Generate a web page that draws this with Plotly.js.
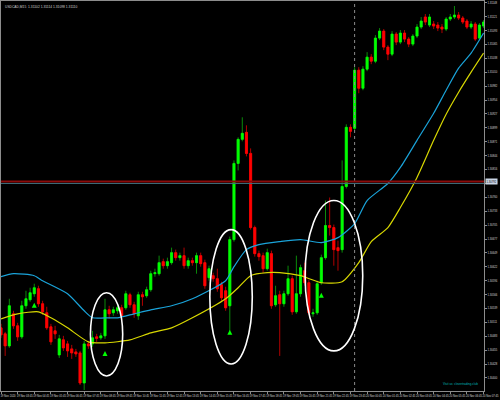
<!DOCTYPE html>
<html><head><meta charset="utf-8">
<script src="https://cdn.plot.ly/plotly-3.0.1.min.js"></script>
<style>html,body{margin:0;padding:0;background:#000;}#chart{width:500px;height:400px;}</style>
</head><body><div id="chart"></div>
<script>
const symbolName = "USDCAD,M15";
const openP = [1.30500,1.30488,1.30464,1.30528,1.30504,1.30482,1.30544,1.30556,1.30568,1.30578,
1.30548,1.30530,1.30502,1.30494,1.30446,1.30476,1.30468,1.30458,1.30452,1.30450,
1.30390,1.30468,1.30468,1.30482,1.30480,1.30484,1.30536,1.30530,1.30534,1.30540,
1.30540,1.30566,1.30546,1.30524,1.30566,1.30564,1.30576,1.30608,1.30608,1.30632,
1.30624,1.30630,1.30650,1.30640,1.30644,1.30624,1.30634,1.30630,1.30644,1.30630,
1.30600,1.30604,1.30598,1.30586,1.30574,1.30544,1.30676,1.30828,1.30876,1.30890,
1.30848,1.30700,1.30648,1.30644,1.30618,1.30648,1.30546,1.30566,1.30548,1.30568,
1.30598,1.30532,1.30568,1.30614,1.30590,1.30528,1.30530,1.30590,1.30640,1.30704,
1.30700,1.30660,1.30656,1.30782,1.30900,1.30898,1.31014,1.30978,1.31016,1.31040,
1.31032,1.31078,1.31092,1.31060,1.31046,1.31086,1.31070,1.31088,1.31076,1.31066,
1.31082,1.31100,1.31120,1.31104,1.31106,1.31104,1.31100,1.31096,1.31116,1.31120,
1.31124,1.31118,1.31112,1.31100,1.31106,1.31078,1.31102];
const highP = [1.30508,1.30492,1.30558,1.30534,1.30510,1.30554,1.30574,1.30580,1.30588,1.30584,
1.30554,1.30542,1.30508,1.30504,1.30486,1.30484,1.30474,1.30466,1.30458,1.30454,
1.30474,1.30474,1.30494,1.30488,1.30490,1.30558,1.30544,1.30542,1.30548,1.30546,
1.30574,1.30570,1.30552,1.30572,1.30572,1.30582,1.30614,1.30618,1.30644,1.30638,
1.30640,1.30660,1.30656,1.30650,1.30660,1.30640,1.30640,1.30650,1.30650,1.30636,
1.30624,1.30610,1.30618,1.30592,1.30582,1.30682,1.30834,1.30880,1.30920,1.30904,
1.30858,1.30704,1.30654,1.30650,1.30658,1.30654,1.30584,1.30574,1.30574,1.30624,
1.30604,1.30644,1.30626,1.30630,1.30596,1.30538,1.30594,1.30646,1.30754,1.30760,
1.30706,1.30674,1.30834,1.30906,1.30906,1.31020,1.31020,1.31022,1.31050,1.31046,
1.31084,1.31098,1.31096,1.31064,1.31092,1.31090,1.31094,1.31094,1.31080,1.31086,
1.31106,1.31120,1.31126,1.31126,1.31112,1.31110,1.31106,1.31120,1.31126,1.31142,
1.31130,1.31122,1.31116,1.31112,1.31110,1.31108,1.31114];
const lowP = [1.30480,1.30444,1.30460,1.30498,1.30474,1.30478,1.30538,1.30552,1.30562,1.30542,
1.30526,1.30496,1.30466,1.30478,1.30440,1.30454,1.30442,1.30438,1.30442,1.30386,
1.30376,1.30458,1.30462,1.30472,1.30476,1.30478,1.30518,1.30524,1.30528,1.30514,
1.30536,1.30540,1.30520,1.30516,1.30544,1.30560,1.30572,1.30602,1.30604,1.30618,
1.30618,1.30626,1.30634,1.30634,1.30618,1.30618,1.30624,1.30608,1.30622,1.30578,
1.30594,1.30592,1.30572,1.30554,1.30534,1.30494,1.30672,1.30814,1.30872,1.30842,
1.30696,1.30642,1.30634,1.30610,1.30614,1.30538,1.30542,1.30444,1.30542,1.30564,
1.30526,1.30528,1.30562,1.30584,1.30526,1.30522,1.30526,1.30586,1.30636,1.30684,
1.30624,1.30614,1.30650,1.30778,1.30880,1.30894,1.30968,1.30974,1.31012,1.31026,
1.31028,1.31074,1.31054,1.31034,1.31042,1.31064,1.31066,1.31070,1.31060,1.31062,
1.31078,1.31096,1.31104,1.31100,1.31096,1.31092,1.31088,1.31092,1.31112,1.31116,
1.31114,1.31106,1.31096,1.31096,1.31072,1.31074,1.31098];
const closeP = [1.30486,1.30464,1.30544,1.30504,1.30482,1.30544,1.30558,1.30570,1.30580,1.30548,
1.30532,1.30500,1.30472,1.30488,1.30478,1.30460,1.30454,1.30450,1.30448,1.30390,
1.30468,1.30464,1.30480,1.30479,1.30484,1.30536,1.30528,1.30536,1.30540,1.30524,
1.30568,1.30546,1.30528,1.30566,1.30562,1.30576,1.30608,1.30610,1.30630,1.30624,
1.30632,1.30650,1.30640,1.30644,1.30624,1.30634,1.30630,1.30644,1.30628,1.30584,
1.30618,1.30598,1.30578,1.30560,1.30540,1.30676,1.30828,1.30876,1.30888,1.30848,
1.30700,1.30648,1.30642,1.30618,1.30650,1.30544,1.30564,1.30548,1.30568,1.30598,
1.30532,1.30568,1.30620,1.30590,1.30530,1.30530,1.30588,1.30640,1.30704,1.30700,
1.30656,1.30654,1.30782,1.30900,1.30892,1.31014,1.30978,1.31016,1.31040,1.31032,
1.31078,1.31092,1.31060,1.31046,1.31086,1.31070,1.31088,1.31076,1.31066,1.31082,
1.31100,1.31112,1.31110,1.31120,1.31102,1.31098,1.31096,1.31116,1.31120,1.31124,
1.31118,1.31110,1.31100,1.31106,1.31076,1.31104,1.31110];

const maFastX = [0,3,8,10,16,20,22,26,28,32,36,41,46,54,56,59,62,67,72,77,81,85,88,93,96,100,104,107,110,113,116];
const maFastY = [1.30602,1.30608,1.30604,1.30594,1.30568,1.30534,1.30520,1.30520,1.30520,1.30528,1.30536,1.30544,1.30558,1.30594,1.30622,1.30656,1.30666,1.30672,1.30676,1.30670,1.30680,1.30708,1.30754,1.30788,1.30820,1.30874,1.30928,1.30974,1.31018,1.31048,1.31088];
const maSlowX = [0,4,9,12,16,21,25,31,36,41,46,54,57,60,64,67,72,77,82,86,89,93,96,100,104,107,110,113,116];
const maSlowY = [1.30518,1.30528,1.30532,1.30520,1.30500,1.30472,1.30470,1.30476,1.30490,1.30500,1.30520,1.30558,1.30580,1.30604,1.30610,1.30610,1.30604,1.30590,1.30592,1.30630,1.30672,1.30700,1.30740,1.30800,1.30874,1.30926,1.30970,1.31010,1.31048];

const arrowX = [8,25,55,77];
const arrowY = [1.30550,1.30454,1.30496,1.30570];

const hLinePrice = 1.30792;
const separatorBar = 85;

const xTickVals = [0,4,8,12,16,20,24,28,32,36,40,44,48,52,56,60,64,68,72,76,80,84,88,92,96,100,104,108,112,116];
const xTickText = ["19 Nov 2020","19 Nov 03:45","19 Nov 04:45","19 Nov 05:45","19 Nov 06:45","19 Nov 07:45","19 Nov 08:45","19 Nov 09:45","19 Nov 10:45","19 Nov 11:45","19 Nov 12:45","19 Nov 13:45","19 Nov 14:45","19 Nov 15:45","19 Nov 16:45","19 Nov 17:45","19 Nov 18:45","19 Nov 19:45","19 Nov 20:45","19 Nov 21:45","19 Nov 22:45","19 Nov 23:45","20 Nov 00:45","20 Nov 01:45","20 Nov 02:45","20 Nov 03:45","20 Nov 04:45","20 Nov 05:45","20 Nov 06:45","20 Nov 07:45"];

const idx = openP.map((_, i) => i);
const bodyHigh = openP.map((o, i) => Math.max(o, closeP[i]));
const bodyLow = openP.map((o, i) => Math.min(o, closeP[i]));
const last = openP.length - 1;
const f5 = v => v.toFixed(5);

const traces = [
  {type:'candlestick', x:idx, open:openP, high:highP, low:lowP, close:closeP,
   increasing:{line:{color:'#0a8a0a', width:1}, fillcolor:'#00ff00'},
   decreasing:{line:{color:'#b00000', width:1}, fillcolor:'#ff0000'},
   whiskerwidth:0, hoverinfo:'skip'},
  {type:'candlestick', x:idx, open:openP, high:bodyHigh, low:bodyLow, close:closeP,
   increasing:{line:{color:'#00ff00', width:0.6}, fillcolor:'#00ff00'},
   decreasing:{line:{color:'#ff0000', width:0.6}, fillcolor:'#ff0000'},
   whiskerwidth:0, hoverinfo:'skip'},
  {type:'scatter', mode:'lines', x:maFastX, y:maFastY, line:{color:'#1aa3d9', width:1.2, shape:'spline', smoothing:0.6}, hoverinfo:'skip'},
  {type:'scatter', mode:'lines', x:maSlowX, y:maSlowY, line:{color:'#d8d800', width:1.2, shape:'spline', smoothing:0.6}, hoverinfo:'skip'},
  {type:'scatter', mode:'markers', x:arrowX, y:arrowY, marker:{symbol:'arrow-up', size:5, color:'#00ff00'}, hoverinfo:'skip'}
];

const tickFont = {family:'Liberation Sans, DejaVu Sans, sans-serif', size:2.7, color:'#d8d8d8'};

const layout = {
  width:500, height:400,
  paper_bgcolor:'#000', plot_bgcolor:'#000',
  margin:{l:1, r:16, t:1, b:9},
  showlegend:false, boxmode:'overlay',
  xaxis:{range:[0,116.1], rangeslider:{visible:false}, showgrid:false, zeroline:false,
    showline:true, linecolor:'#8c8c8c', linewidth:1, mirror:true,
    tickmode:'array', tickvals:xTickVals, ticktext:xTickText, tickangle:0,
    ticks:'outside', ticklen:2, tickcolor:'#8c8c8c', tickfont:tickFont,
    ticklabelshift:7, ticklabelstandoff:0, fixedrange:true},
  yaxis:{range:[1.30374,1.31152], side:'right', showgrid:false, zeroline:false,
    showline:true, linecolor:'#8c8c8c', linewidth:1, mirror:true,
    tick0:1.304, dtick:0.0002772, tickformat:'.5f',
    ticks:'outside', ticklen:2, tickcolor:'#8c8c8c', tickfont:tickFont, ticklabelstandoff:0, fixedrange:true},
  shapes:[
    {type:'line', xref:'x', yref:'paper', x0:separatorBar, x1:separatorBar, y0:0, y1:1, line:{color:'#8c8c8c', width:1, dash:'dot'}},
    {type:'line', xref:'paper', yref:'y', x0:0, x1:1, y0:hLinePrice, y1:hLinePrice, line:{color:'#8b0a0a', width:2}},
    {type:'line', xref:'paper', yref:'y', x0:0, x1:1, y0:hLinePrice-0.00004, y1:hLinePrice-0.00004, line:{color:'#3c6e7c', width:1}},
    {type:'circle', xref:'x', yref:'y', x0:21.5, x1:29.25, y0:1.30404, y1:1.30570, line:{color:'#ffffff', width:1.6}},
    {type:'circle', xref:'x', yref:'y', x0:50.2, x1:60.4, y0:1.30428, y1:1.30696, line:{color:'#ffffff', width:1.6}},
    {type:'circle', xref:'x', yref:'y', x0:73.1, x1:86.95, y0:1.30454, y1:1.30754, line:{color:'#ffffff', width:1.6}}
  ],
  annotations:[
    {xref:'paper', yref:'paper', x:0, y:1, xanchor:'left', yanchor:'top', xshift:2, yshift:-2, showarrow:false,
     text: symbolName + '  ' + f5(openP[last]) + ' ' + f5(highP[last]) + ' ' + f5(lowP[last]) + ' ' + f5(closeP[last]),
     font:{family:'Liberation Sans, DejaVu Sans, sans-serif', size:3.3, color:'#d0d0d0'}},
    {xref:'paper', yref:'y', x:1, y:hLinePrice, xanchor:'left', yanchor:'middle', xshift:1, showarrow:false,
     text:f5(hLinePrice), bgcolor:'#c8d4e4', borderpad:0.5,
     font:{family:'Liberation Sans, DejaVu Sans, sans-serif', size:2.7, color:'#000000'}},
    {xref:'paper', yref:'paper', x:1, y:0, xanchor:'right', yanchor:'bottom', xshift:-4, yshift:3, showarrow:false,
     text:'Visit us: clevertrading.club',
     font:{family:'Liberation Sans, DejaVu Sans, sans-serif', size:3, color:'#00b8b8'}}
  ]
};

Plotly.newPlot('chart', traces, layout, {staticPlot:true, displayModeBar:false});
</script>
</body></html>
